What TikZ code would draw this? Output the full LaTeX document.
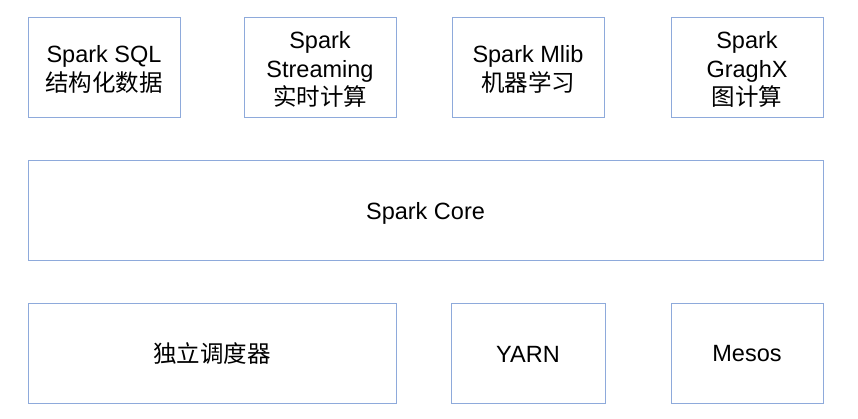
\documentclass[tikz,border=0pt]{standalone}
\usepackage{fontspec}
\setmainfont{Liberation Sans}
\newfontfamily\cjk{Noto Sans CJK SC}
\definecolor{boxblue}{HTML}{8EAADB}
\begin{document}
\begin{tikzpicture}[x=1pt,y=-1pt,
  blk/.style={draw=boxblue,line width=1pt,fill=white,inner sep=0pt,minimum height=100pt},
  txt/.style={inner sep=0pt,align=center,yshift=-2.5pt,font=\fontsize{23.5}{28.5}\selectfont}]
\useasboundingbox (0,0) rectangle (858,418);
\node[blk,minimum width=152pt,label={[txt]center:Spark SQL\\{\cjk 结构化数据}}] (sql) at (104,67) {};
\node[blk,minimum width=152pt,label={[txt]center:Spark\\Streaming\\{\cjk 实时计算}}] (stream) at (320,67) {};
\node[blk,minimum width=152pt,label={[txt]center:Spark Mlib\\{\cjk 机器学习}}] (mlib) at (528,67) {};
\node[blk,minimum width=152pt,label={[txt]center:Spark\\GraghX\\{\cjk 图计算}}] (graph) at (747,67) {};
\node[blk,minimum width=795pt,label={[txt,yshift=-0.8pt]center:Spark Core}] (core) at (425.5,210) {};
\node[blk,minimum width=368pt,label={[txt,yshift=2pt]center:{\cjk 独立调度器}}] (standalone) at (212,353) {};
\node[blk,minimum width=154pt,label={[txt,yshift=1.5pt]center:YARN}] (yarn) at (528,353) {};
\node[blk,minimum width=152pt,label={[txt,yshift=1.5pt]center:Mesos}] (mesos) at (747,353) {};
\end{tikzpicture}
\end{document}
